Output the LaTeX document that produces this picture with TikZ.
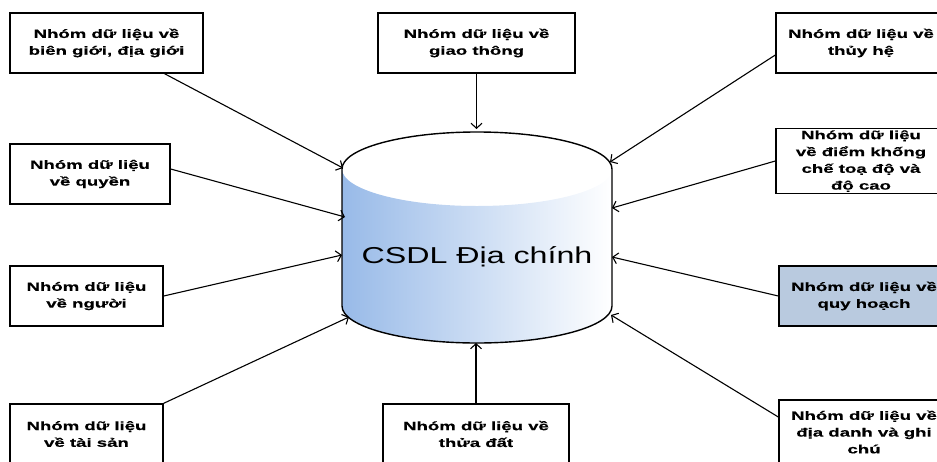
\documentclass[tikz,border=0pt]{standalone}
\usepackage{fontspec}
\setmainfont{Liberation Sans}
\newfontfamily\boxfont[FakeStretch=1.55,FakeBold=0.4,UprightFont=* Bold]{Liberation Sans}
\newfontfamily\dbfont[FakeStretch=1.4]{Liberation Sans}
\usetikzlibrary{arrows.meta}
\definecolor{dbblue}{RGB}{152,186,232}
\definecolor{qhblue}{RGB}{185,202,223}
\tikzset{
	grp/.style={draw, line width=1.4pt, align=center, minimum height=60pt, inner sep=2pt,
		font=\boxfont\fontsize{12pt}{16.8pt}\selectfont},
	arr/.style={-{Straight Barb[length=5pt,width=11pt]}, line width=1.1pt}
}
\begin{document}
\begin{tikzpicture}[x=1pt,y=1pt]
			\useasboundingbox (0,0) rectangle (937,-461);
			\clip (0,0) rectangle (937,-461);
			\shade [left color=dbblue, right color=white] (342,-169) -- (342,-306) arc[start angle=180, end angle=360, x radius=135, y radius=37] -- (612,-169) arc[start angle=0, end angle=-180, x radius=135, y radius=37] -- cycle;
			\draw [line width=1.4pt] (342,-306) -- (342,-169) arc[start angle=180, end angle=0, x radius=135, y radius=37] -- (612,-306) arc[start angle=0, end angle=-180, x radius=135, y radius=37];
			\node (db) at (477,-257) {\dbfont\fontsize{23pt}{26pt}\selectfont CSDL Địa chính};
			\node [grp, minimum width=193pt] (bg) at (106.5,-43) {Nhóm dữ liệu về\\biên giới, địa giới};
			\node [grp, minimum width=197pt] (gt) at (476.5,-43) {Nhóm dữ liệu về\\giao thông};
			\node [grp, minimum width=170pt] (th) at (861,-43) {Nhóm dữ liệu về\\thủy hệ};
			\node [grp, minimum width=160pt] (qy) at (90,-174) {Nhóm dữ liệu\\về quyền};
			\node [grp, minimum width=170pt, minimum height=62pt] (dk) at (861,-161) {Nhóm dữ liệu\\về điểm khống\\chế toạ độ và\\độ cao};
			\node [grp, minimum width=153pt] (ng) at (86.5,-296) {Nhóm dữ liệu\\về người};
			\node [grp, minimum width=170pt, fill=qhblue] (qh) at (864,-296) {Nhóm dữ liệu về\\quy hoạch};
			\node [grp, minimum width=153pt] (ts) at (86.5,-434) {Nhóm dữ liệu\\về tài sản};
			\node [grp, minimum width=186pt] (td) at (476,-434) {Nhóm dữ liệu về\\thửa đất};
			\node [grp, minimum width=170pt, minimum height=64pt] (dd) at (864,-432) {Nhóm dữ liệu về\\địa danh và ghi\\chú};
			\coordinate (t1) at (343,-168);
			\coordinate (t2) at (345,-217);
			\coordinate (t3) at (342,-255);
			\coordinate (t4) at (349,-317);
			\coordinate (t5) at (476,-343);
			\coordinate (t6) at (476.5,-129);
			\coordinate (t7) at (610,-162);
			\coordinate (t8) at (612,-208);
			\coordinate (t9) at (612,-257);
			\coordinate (t10) at (611,-315);
			\draw [arr] (bg) -- (t1);
			\draw [arr] ([yshift=5pt]qy.east) -- (t2);
			\draw [arr] (ng.east) -- (t3);
			\draw [arr] (ts.north east) -- (t4);
			\draw [arr] (td.north) -- (t5);
			\draw [arr] (gt.south) -- (t6);
			\draw [arr] ([yshift=-12pt]th.west) -- (t7);
			\draw [arr] (dk.west) -- (t8);
			\draw [arr] (qh.west) -- (t9);
			\draw [arr] ([yshift=15pt]dd.west) -- (t10);
		\end{tikzpicture}
\end{document}
